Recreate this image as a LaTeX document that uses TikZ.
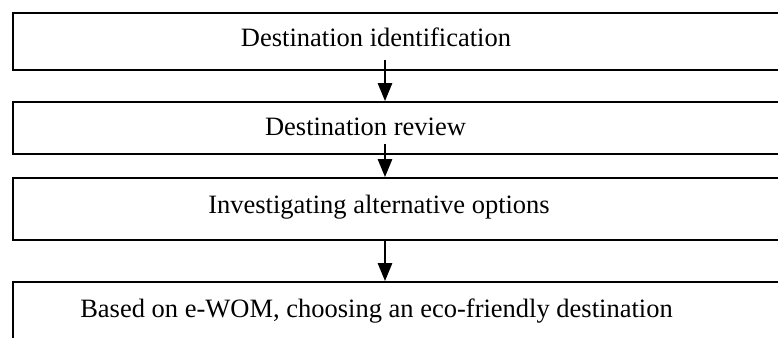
\documentclass[tikz,border=0pt]{standalone}
\usepackage{fontspec}
\setmainfont{Liberation Serif}
\usetikzlibrary{arrows.meta,calc}
\begin{document}
\begin{tikzpicture}[x=1pt,y=-1pt,
  stage/.style={draw=black,line width=1.6pt,rectangle,anchor=north west,inner sep=0pt,minimum width=800pt},
  lbl/.style={anchor=base,inner sep=0pt,font=\fontsize{26.5}{31}\selectfont},
  arr/.style={line width=1.4pt,-{Triangle[width=14.5pt,length=18pt]}}]
\useasboundingbox (0,0) rectangle (778,337);
\clip (0,0) rectangle (778,337);
\fill[white] (0,0) rectangle (778,337);
\coordinate (ax) at (385,0);
\node[stage,minimum height=57pt] (b1) at (12,12) {};
\node[stage,minimum height=52pt] (b2) at (12,101) {};
\node[stage,minimum height=62pt] (b3) at (12,177) {};
\node[stage,minimum height=90pt] (b4) at (12,281) {};
\node[lbl] (t1) at (376,47) {Destination identification};
\node[lbl] (t2) at (365.5,135) {Destination review};
\node[lbl] (t3) at (379,213) {Investigating alternative options};
\node[lbl] (t4) at (376.5,317) {Based on e-WOM, choosing an eco-friendly destination};
\draw[arr] ($(b1.south -| ax)+(0,-11)$) -- (b2.north -| ax);
\draw[arr] ($(b2.south -| ax)+(0,-11)$) -- (b3.north -| ax);
\draw[arr] ($(b3.south -| ax)+(0,-1)$) -- (b4.north -| ax);
\end{tikzpicture}
\end{document}
